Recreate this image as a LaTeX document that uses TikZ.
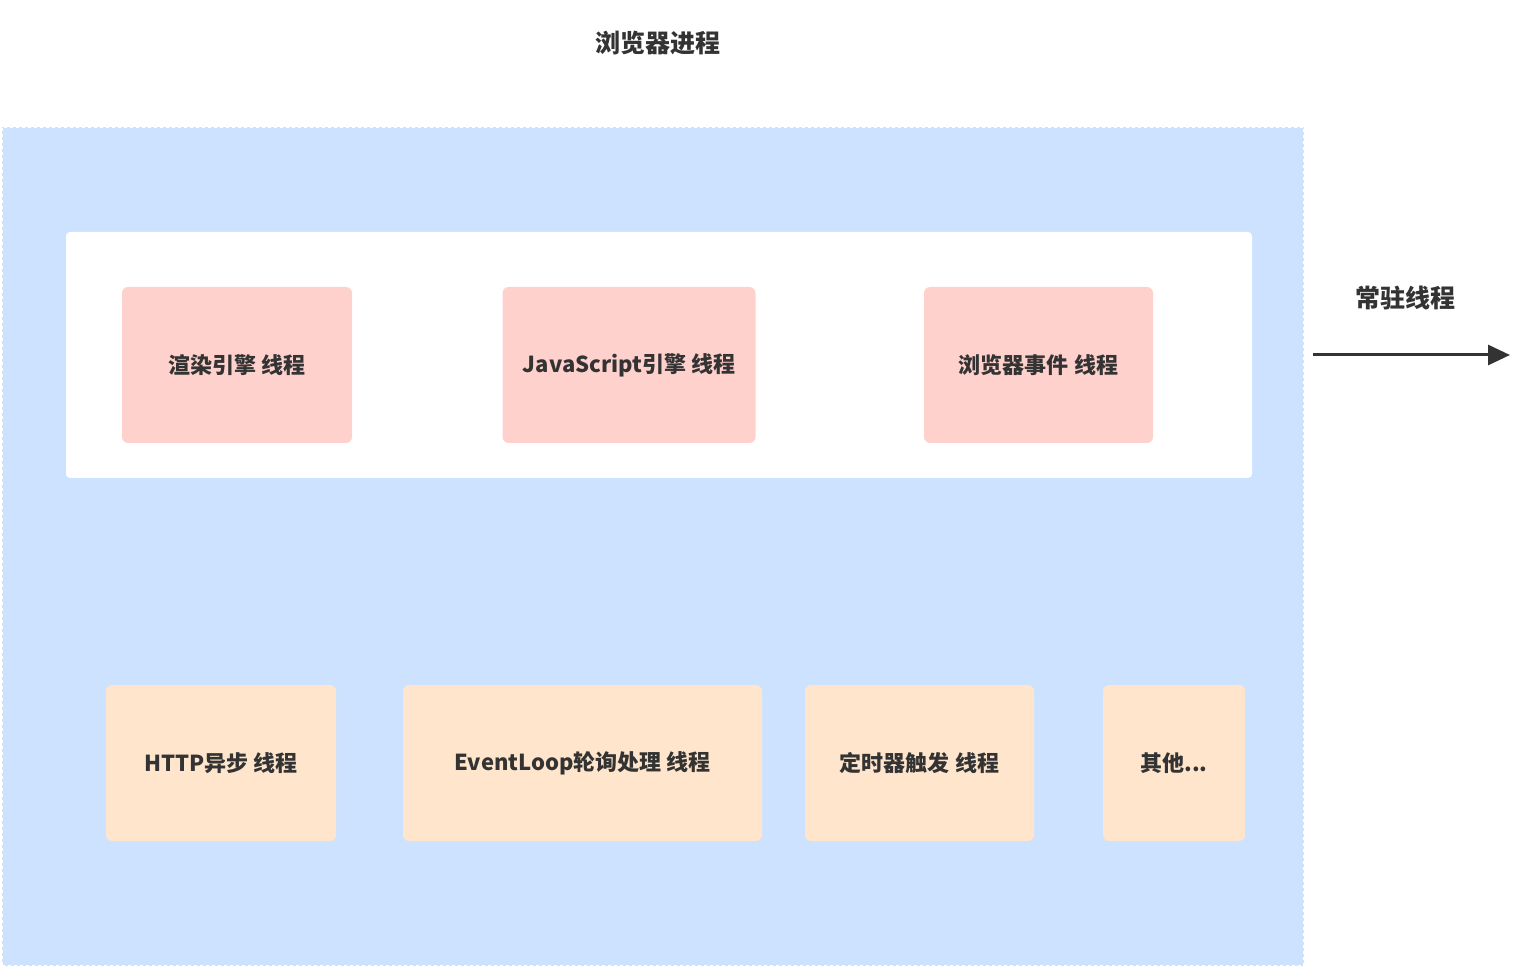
\documentclass[tikz,border=0pt]{standalone}
\usepackage{fontspec}
\setmainfont{Noto Sans CJK SC}
\usetikzlibrary{arrows.meta}
\definecolor{bluebg}{HTML}{CCE2FF}
\definecolor{pinkbox}{HTML}{FFD1CC}
\definecolor{peachbox}{HTML}{FFE5CC}
\definecolor{txt}{HTML}{333333}
\tikzset{
  px/.style={x=0.5pt,y=-0.5pt},
  pinkthread/.style={rectangle, rounded corners=3pt, fill=pinkbox, draw=none, minimum width=115pt, minimum height=78pt, font=\bfseries\fontsize{11}{13}\selectfont, text=txt, inner sep=0pt},
  peachthread/.style={rectangle, rounded corners=3pt, fill=peachbox, draw=none, minimum height=78pt, font=\bfseries\fontsize{11}{13}\selectfont, text=txt, inner sep=0pt},
  lbl/.style={font=\bfseries\fontsize{12.5}{14}\selectfont, text=txt, inner sep=0pt},
}
\begin{document}
\begin{tikzpicture}[px]
\useasboundingbox (0,0) rectangle (1517,968);
% browser process container
\node[rectangle, fill=bluebg, draw=white, line width=0.8pt, dash pattern=on 1.5pt off 1.5pt, minimum width=651pt, minimum height=419.5pt, inner sep=0pt] (proc) at (653,546.5) {};
% resident thread group
\node[rectangle, rounded corners=2pt, fill=white, minimum width=593pt, minimum height=123pt, inner sep=0pt] (resident) at (659,355) {};
\node[lbl] (title) at (658,43) {浏览器进程};
\node[pinkthread] (render) at (237,365) {渲染引擎 线程};
\node[pinkthread, minimum width=126.5pt] (js) at (629,365) {JavaScript引擎 线程};
\node[pinkthread, minimum width=114.5pt] (event) at (1038.5,365) {浏览器事件 线程};
\node[peachthread, minimum width=115pt] (http) at (221,763) {HTTP异步 线程};
\node[peachthread, minimum width=179.5pt] (loop) at (582.5,763) {EventLoop轮询处理 线程};
\node[peachthread, minimum width=114.5pt] (timer) at (919.5,763) {定时器触发 线程};
\node[peachthread, minimum width=71pt] (other) at (1174,763) {其他...};
\node[lbl] (reslbl) at (1405,298) {常驻线程};
\coordinate (a1) at (1313,355);
\coordinate (a2) at (1510,355);
\draw[txt, line width=1.5pt, -{Triangle[length=11pt,width=10pt]}] (a1) -- (a2);
\end{tikzpicture}
\end{document}
